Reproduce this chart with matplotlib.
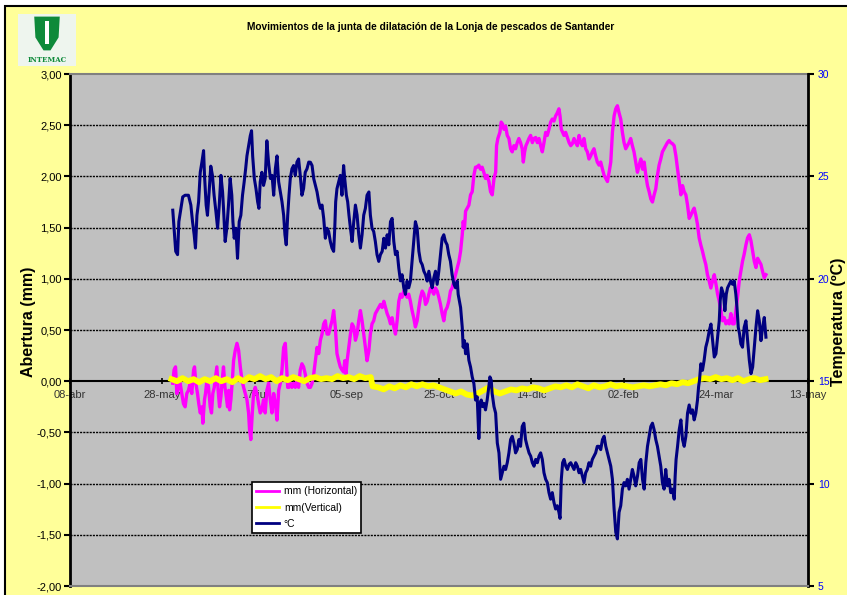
import matplotlib
matplotlib.use("Agg")
import matplotlib.pyplot as plt
import matplotlib.patches as mpatches
import numpy as np
import pandas as pd

plt.rcParams["font.family"] = ["Liberation Sans", "DejaVu Sans"]

START = pd.Timestamp("2004-04-08")

# días desde el 08-abr y lecturas
temp_days = [
    55.7, 56.4, 57.3, 58.3, 59.0, 60.1, 61.1, 62.4, 64.2, 65.5, 66.4, 67.3, 68.0, 68.8, 69.7,
    70.6, 71.5, 72.4, 72.9, 73.8, 74.5, 75.4, 76.3, 77.2, 78.1, 79.1, 80.0, 80.9, 81.8, 82.7,
    83.2, 84.1, 85.0, 85.9, 86.8, 87.7, 88.3, 89.0, 89.9, 90.8, 91.7, 92.6, 93.5, 94.4, 95.2,
    95.9, 96.8, 97.7, 98.4, 99.0, 99.9, 100.8, 101.7, 102.4, 103.1, 104.0, 104.9, 105.8, 106.7,
    107.6, 108.6, 109.5, 110.4, 111.3, 112.2, 113.1, 114.0, 114.9, 115.8, 116.5, 117.2, 118.0,
    118.7, 119.4, 120.3, 121.2, 122.1, 123.0, 123.9, 124.8, 125.7, 126.6, 127.5, 128.45, 129.4,
    130.3, 131.2, 132.1, 133.0, 133.9, 134.8, 135.7, 136.6, 137.5, 138.4, 139.3, 140.2, 141.1,
    142.0, 142.9, 143.5, 144.0, 144.7, 145.6, 146.5, 147.4, 148.3, 148.9, 149.8, 150.5, 151.2,
    152.0, 152.9, 153.8, 154.7, 155.6, 156.5, 157.4, 158.3, 159.2, 160.1, 161.0, 162.0, 162.8,
    163.7, 164.6, 165.5, 166.4, 167.35, 168.25, 169.2, 170.1, 171.0, 171.9, 172.8, 173.7, 174.6,
    175.5, 176.4, 177.3, 178.2, 179.1, 180.0, 180.9, 181.8, 182.7, 183.6, 184.5, 185.4, 186.3,
    187.2, 188.15, 189.1, 190.0, 190.9, 191.8, 192.7, 193.6, 194.5, 195.4, 196.3, 197.2, 198.1,
    199.0, 199.9, 200.8, 201.7, 202.6, 203.5, 204.4, 205.3, 206.2, 207.1, 208.1, 209.0, 209.9,
    210.4, 211.7, 212.6, 213.1, 213.8, 214.4, 215.3, 216.2, 217.1, 218.0, 218.9, 219.8, 220.7,
    221.6, 222.2, 222.9, 223.6, 224.3, 225.2, 226.1, 227.0, 227.6, 228.3, 228.8, 229.8, 230.7,
    231.6, 232.5, 233.4, 234.3, 235.2, 236.1, 237.0, 237.9, 238.8, 239.7, 240.6, 241.5, 242.4,
    243.3, 244.2, 245.1, 246.0, 246.9, 247.8, 248.8, 249.7, 250.6, 251.5, 252.4, 253.3, 254.2,
    255.1, 256.0, 256.9, 257.8, 258.7, 259.6, 260.5, 261.4, 262.3, 263.2, 264.1, 265.0, 265.6,
    266.3, 267.0, 267.8, 268.7, 269.6, 270.5, 271.4, 272.3, 273.2, 274.1, 275.0, 275.9, 276.8,
    277.7, 278.6, 279.5, 280.4, 281.3, 282.2, 283.1, 284.0, 284.9, 285.8, 286.75, 287.65, 288.6,
    289.5, 290.4, 291.3, 292.2, 293.1, 294.0, 294.9, 295.8, 296.7, 297.6, 298.5, 299.4, 300.3,
    301.2, 302.1, 303.0, 303.9, 304.8, 305.7, 306.6, 307.6, 308.5, 309.4, 310.3, 311.2, 312.1,
    313.0, 313.9, 314.8, 315.7, 316.6, 317.5, 318.4, 319.3, 320.2, 321.1, 322.0, 322.9, 323.8,
    324.7, 325.6, 326.5, 327.5, 328.0, 328.5, 329.3, 330.2, 331.1, 332.0, 332.9, 333.8, 334.7,
    335.6, 336.5, 337.4, 338.3, 339.2, 340.1, 340.7, 341.2, 341.9, 342.8, 343.7, 344.6, 345.5,
    346.5, 347.4, 348.3, 349.2, 350.1, 351.0, 351.9, 352.4, 353.1, 354.2, 354.95, 355.7, 356.4,
    357.3, 358.2, 359.1, 360.0, 360.9, 361.5, 362.2, 362.9, 363.6, 364.5, 365.4, 366.35, 367.25,
    368.2, 369.1, 370.0, 370.9, 371.8, 372.7, 373.6, 374.5, 375.4, 376.3, 377.2,
]
temp_values = [
    23.35, 22.47, 21.34, 21.18, 22.79, 23.44, 24.0, 24.08, 24.08, 23.6, 22.8, 22.15, 21.5, 23.1, 23.76,
    25.2, 25.7, 26.26, 25.05, 23.6, 23.1, 24.24, 25.5, 25.05, 24.08, 23.27, 22.47, 23.6, 25.05, 24.24,
    23.44, 21.82, 22.47, 23.6, 24.9, 24.08, 22.79, 21.98, 22.47, 21.0, 22.79, 23.1, 24.08, 24.73, 25.37,
    26.0, 26.5, 26.98, 27.23, 26.0, 24.9, 24.4, 23.76, 23.44, 24.73, 25.2, 24.56, 24.9, 26.74,
    25.7, 24.9, 25.05, 24.08, 25.37, 26.0, 24.73, 24.24, 23.76, 23.1, 22.15, 21.66, 23.1,
    24.08, 24.9, 25.37, 25.53, 25.05, 25.7, 25.85, 25.05, 24.08, 24.4, 25.2, 25.37, 25.7,
    25.69, 25.53, 24.89, 24.56, 24.24, 23.76, 23.44, 23.6, 22.95, 21.98, 22.47, 22.31, 21.82,
    21.5, 21.34, 22.47, 23.76, 24.4, 24.73, 25.05, 24.08, 25.53, 24.89, 24.08, 23.76, 23.11,
    22.47, 21.82, 22.79, 23.6, 23.11, 22.15, 21.5, 22.15, 23.11, 23.44, 24.08, 24.24, 23.11,
    22.47, 22.31, 21.82, 21.18, 20.85, 21.18, 21.34, 21.98, 21.5, 22.15, 21.66, 22.79, 22.95,
    21.82, 21.18, 21.34, 20.53, 19.9, 20.2, 19.56, 19.24, 19.89, 19.56, 19.89, 20.85, 21.82,
    22.79, 22.47, 21.34, 20.85, 20.69, 20.37, 20.2, 19.89, 20.37, 19.89, 19.56, 20.05, 20.37,
    19.73, 20.37, 21.18, 21.98, 22.15, 21.82, 21.66, 21.18, 20.85, 20.2, 19.73, 19.56, 19.89,
    19.24, 18.6, 17.63, 16.66, 16.98, 16.34, 16.82, 16.02, 15.69, 15.21, 14.89, 14.08, 14.24,
    12.2, 13.92, 14.08, 13.76, 13.92, 13.6, 14.08, 14.73, 15.21, 15.05, 14.4, 13.76, 13.44,
    11.98, 11.5, 10.21, 10.53, 10.85, 10.69, 11.02, 11.5, 12.15, 12.31, 11.98, 11.5, 11.66,
    12.15, 11.82, 12.79, 12.95, 12.15, 11.82, 11.5, 11.34, 11.02, 10.85, 11.18, 11.02, 11.34,
    11.5, 11.18, 10.53, 10.21, 10.05, 9.56, 9.24, 9.56, 9.08, 8.76, 8.92, 8.6, 8.3,
    10.21, 11.02, 11.18, 10.85, 10.69, 10.94, 11.02, 10.85, 10.69, 11.02, 10.85, 10.53, 10.69,
    10.37, 10.05, 10.53, 10.69, 11.02, 10.85, 11.18, 11.34, 11.5, 11.82, 11.82, 11.66, 12.15,
    12.31, 11.82, 11.5, 11.18, 10.85, 10.21, 8.76, 7.63, 7.3, 8.6, 8.92, 9.73, 10.05,
    9.89, 10.21, 9.73, 10.21, 10.69, 10.37, 9.89, 10.37, 11.02, 11.18, 10.21, 9.73, 11.02,
    11.82, 12.31, 12.79, 12.95, 12.63, 12.15, 11.82, 11.34, 10.85, 10.05, 9.73, 10.69, 9.89,
    10.21, 9.56, 9.73, 9.24, 10.37, 11.18, 11.82, 12.63, 13.11, 12.15, 11.82, 12.31, 13.44,
    13.84, 13.44, 13.6, 13.11, 13.44, 14.08, 14.73, 15.05, 15.85, 15.53, 16.02, 16.66, 16.98,
    17.47, 17.79, 16.98, 16.18, 16.34, 17.15, 17.95, 18.92, 19.56, 19.24, 18.44, 19.24, 19.56,
    19.73, 19.89, 19.73, 19.89, 19.24, 18.6, 17.63, 17.31, 16.82, 16.66, 17.63, 17.95, 16.98,
    16.02, 15.37, 15.69, 16.66, 17.63, 18.44, 17.95, 16.98, 17.63, 18.11, 17.15,
]

horiz_days = [
    55.7, 56.4, 57.2, 57.9, 58.8, 59.7, 60.6, 61.5, 62.4, 63.3, 64.2, 65.1, 66.0, 67.0, 67.5,
    68.2, 69.1, 69.8, 70.6, 71.5, 72.0, 72.9, 73.45, 74.2, 75.1, 76.0, 76.7, 77.4, 78.2, 78.9,
    79.6, 80.3, 81.05, 81.8, 82.5, 83.2, 84.0, 84.7, 85.4, 86.0, 86.5, 87.2, 88.0, 88.65, 89.55,
    90.5, 91.4, 92.3, 93.2, 94.1, 95.0, 95.9, 96.8, 97.3, 98.0, 98.8, 99.5, 100.4, 101.3, 102.2,
    103.1, 104.0, 104.9, 105.8, 106.7, 107.65, 108.55, 109.45, 110.4, 111.3, 112.2, 113.1, 114.0,
    114.9, 115.8, 116.7, 117.2, 118.0, 118.7, 119.4, 120.3, 121.2, 122.1, 123.0, 123.9, 124.8,
    125.7, 126.6, 127.5, 128.45, 129.4,
    130.3, 131.2, 132.1, 133.0, 133.9, 134.8, 135.7, 136.6, 137.5, 138.4, 139.3, 140.2, 141.1,
    142.0, 142.9, 143.8, 144.7, 145.6, 146.5, 147.4, 148.3, 148.9, 149.6, 150.2, 151.1, 152.0,
    152.9, 153.8, 154.7, 155.6, 156.5, 157.4, 158.3, 159.2, 160.1, 161.0, 162.0, 162.8, 163.7,
    164.6, 165.5, 166.4, 167.35, 168.25, 169.2, 170.1, 171.0, 171.9, 172.8, 173.7, 174.6, 175.5,
    176.4, 177.3, 178.2, 179.1, 180.0, 180.9, 181.8, 182.7, 183.6, 184.5, 185.4, 186.3, 187.2,
    188.15, 189.1, 190.0, 190.9, 191.8, 192.7, 193.6, 194.5, 195.4, 196.3, 197.2, 198.1, 199.0,
    199.9, 200.8, 201.7, 202.6, 203.5, 204.4, 205.3, 206.2, 207.1, 208.1, 209.0, 209.9, 210.8,
    211.7, 212.6, 213.1, 213.8, 214.4, 215.3, 216.2, 217.1, 218.0, 218.9, 219.8, 220.7, 221.6,
    222.5, 223.4, 224.3, 225.2, 226.1, 227.05, 227.95, 228.85, 229.8, 230.7, 231.2, 231.9, 233.0,
    233.7, 234.5, 235.2, 236.1, 237.0, 237.9, 238.8, 239.7, 240.6, 241.5, 242.4, 243.3, 244.2,
    245.1, 245.7, 246.4, 247.1, 247.85, 248.75, 249.66, 250.6, 251.5, 252.4, 253.3, 254.2, 255.1,
    256.0, 256.9, 257.8, 258.7, 259.6, 260.5, 261.4, 262.3, 263.2, 264.1, 265.0, 265.6, 266.3,
    267.0, 267.75, 268.65, 269.6, 270.5, 271.4, 272.3, 273.2, 274.1, 275.0, 275.9, 276.8, 277.7,
    278.6, 279.5, 280.4, 281.3, 282.2, 283.1, 284.0, 284.9, 285.8, 286.75, 287.65, 288.6, 289.5,
    290.4, 291.3, 292.2, 293.1, 294.0, 294.9, 295.8, 296.7, 297.6, 298.5, 299.4, 300.3, 301.2,
    302.1, 303.0, 303.9, 304.8, 305.7, 306.6, 307.55, 308.5, 309.4, 310.3, 311.2, 312.1, 313.0,
    313.9, 314.8, 315.7, 316.6, 317.5, 318.4, 319.3, 320.2, 321.1, 322.0, 322.9, 323.8, 324.7,
    325.6, 326.5, 327.45, 328.4, 329.3, 330.2, 331.1, 332.0, 332.9, 333.8, 334.7, 335.6, 336.5,
    337.4, 338.3, 339.2, 340.1, 341.0, 341.9, 342.8, 343.7, 344.6, 345.5, 346.4, 347.35, 348.3,
    349.2, 350.1, 351.0, 351.9, 352.8, 353.7, 354.6, 355.5, 356.4, 357.3, 358.2, 359.1, 360.0,
    360.9, 361.8, 362.75, 363.6, 364.5, 365.4, 366.35, 367.25, 368.2, 369.1, 370.0, 370.9, 371.8,
    372.7, 373.6, 374.5, 375.4, 376.3, 377.2,
]
horiz_values = [
    -0.02, 0.11, 0.14, -0.12, -0.06, -0.02, -0.12, -0.22, -0.25, -0.12, -0.09, -0.02, -0.12, 0.11, 0.14,
    -0.02, -0.12, -0.22, -0.31, -0.25, -0.41, -0.18, -0.12, 0.01, -0.06, -0.25, -0.31, -0.12, -0.06, 0.04,
    0.14, -0.09, -0.25, -0.15, 0.01, 0.14, -0.06, -0.15, -0.25, -0.09, -0.28, -0.18, 0.01, 0.2, 0.3,
    0.37, 0.3, 0.14, 0.01, -0.06, -0.12, -0.18, -0.31, -0.47, -0.57, -0.31, -0.12, -0.06, -0.12, -0.22,
    -0.31, -0.28, -0.18, -0.31, -0.09, -0.02, -0.18, -0.31, -0.12, -0.22, -0.38, -0.09, -0.02,
    0.11, 0.33, 0.37, 0.2, -0.06, -0.06, -0.02, -0.06, -0.02, -0.06, 0.01, -0.06, 0.11,
    0.17, 0.14, 0.07, -0.02, -0.06,
    -0.06, -0.02, 0.07, 0.2, 0.33, 0.27, 0.4, 0.46, 0.56, 0.59, 0.46, 0.46, 0.53,
    0.59, 0.69, 0.53, 0.27, 0.2, 0.14, 0.11, 0.09, 0.2, 0.07, 0.2, 0.33, 0.46,
    0.56, 0.53, 0.4, 0.46, 0.59, 0.69, 0.59, 0.46, 0.33, 0.2, 0.3, 0.46, 0.56,
    0.59, 0.66, 0.69, 0.72, 0.75, 0.72, 0.78, 0.72, 0.66, 0.62, 0.56, 0.62, 0.53,
    0.46, 0.59, 0.78, 0.85, 0.82, 0.88, 0.85, 0.82, 0.85, 0.78, 0.69, 0.62, 0.53,
    0.59, 0.72, 0.82, 0.88, 0.85, 0.75, 0.78, 0.85, 0.91, 0.88, 0.85, 0.91, 0.88,
    0.82, 0.75, 0.66, 0.59, 0.69, 0.72, 0.78, 0.88, 0.91, 0.98, 1.04, 1.11, 1.17,
    1.27, 1.43, 1.56, 1.49, 1.66, 1.69, 1.72, 1.82, 1.85, 2.01, 2.09, 2.09, 2.11,
    2.07, 2.09, 2.04, 1.98, 2.01, 1.95, 1.85, 1.82, 1.98, 2.04, 2.3, 2.37, 2.43,
    2.53, 2.51, 2.46, 2.49, 2.4, 2.37, 2.27, 2.24, 2.3, 2.27, 2.33, 2.37, 2.33,
    2.27, 2.14, 2.24, 2.3, 2.33, 2.37, 2.4, 2.33, 2.37, 2.38, 2.33, 2.37, 2.3,
    2.24, 2.33, 2.43, 2.4, 2.46, 2.53, 2.56, 2.54, 2.59, 2.62, 2.66, 2.59, 2.46,
    2.43, 2.4, 2.43, 2.38, 2.33, 2.3, 2.32, 2.37, 2.33, 2.3, 2.4, 2.33, 2.3,
    2.37, 2.27, 2.24, 2.17, 2.2, 2.24, 2.27, 2.2, 2.14, 2.11, 2.14, 2.07, 2.01,
    1.98, 1.95, 2.04, 2.14, 2.43, 2.59, 2.66, 2.69, 2.62, 2.56, 2.43, 2.33, 2.27,
    2.3, 2.33, 2.37, 2.3, 2.24, 2.14, 2.04, 2.11, 2.17, 2.07, 2.14, 2.01, 1.91,
    1.85, 1.78, 1.75, 1.82, 1.88, 2.01, 2.11, 2.17, 2.24, 2.27, 2.3, 2.33, 2.35,
    2.33, 2.32, 2.3, 2.2, 2.07, 1.95, 1.82, 1.91, 1.85, 1.82, 1.72, 1.59, 1.62,
    1.66, 1.69, 1.62, 1.53, 1.4, 1.33, 1.27, 1.2, 1.14, 1.04, 0.98, 0.91, 0.98,
    1.04, 0.95, 0.85, 0.78, 0.69, 0.59, 0.62, 0.56, 0.59, 0.56, 0.66, 0.56, 0.56,
    0.69, 0.82, 0.98, 1.07, 1.17, 1.24, 1.33, 1.4, 1.43, 1.37, 1.27, 1.17, 1.11,
    1.2, 1.17, 1.14, 1.07, 1.01, 1.04,
]

vert_days = [
    55, 58, 61, 64, 67, 70, 73, 76, 79, 82, 85, 88, 91, 94, 97, 100, 103, 106, 109, 112,
    115, 118, 121, 124, 127, 130, 133, 136, 139, 142, 145, 148, 151, 154, 157, 160, 163, 164,
    167, 170, 173, 176, 179, 182, 185, 188, 191, 194, 197, 200, 203, 206, 209, 212, 215, 218,
    221, 224, 227, 230, 233, 236, 239, 242, 245, 248, 251, 254, 257, 260, 263, 266, 269, 272,
    275, 278, 281, 284, 287, 290, 293, 296, 299, 302, 305, 308, 311, 314, 317, 320, 323, 326,
    329, 332, 335, 338, 341, 344, 347, 350, 353, 356, 359, 362, 365, 368, 371, 374, 377,
]
vert_values = [
    0.02, 0.0, 0.03, 0.0, 0.02, -0.01, 0.02, 0.0, 0.03, 0.0, 0.02, -0.01, 0.03, 0.0, 0.04, 0.02,
    0.05, 0.02, 0.04, 0.0, 0.03, 0.01, 0.04, 0.02, 0.0, 0.03, 0.04, 0.02, 0.03, 0.02, 0.05, 0.03,
    0.04, 0.02, 0.05, 0.03, 0.04, -0.05, -0.06, -0.08, -0.05, -0.07, -0.04, -0.06, -0.03, -0.05,
    -0.03, -0.05, -0.04, -0.06, -0.08, -0.1, -0.12, -0.1, -0.13, -0.14, -0.12, -0.09, -0.06, -0.1,
    -0.12, -0.1, -0.08, -0.09, -0.07, -0.08, -0.06, -0.07, -0.09, -0.07, -0.05, -0.06, -0.04,
    -0.06, -0.03, -0.05, -0.07, -0.04, -0.06, -0.05, -0.03, -0.05, -0.04, -0.05, -0.06, -0.05,
    -0.04, -0.05, -0.04, -0.03, -0.04, -0.02, -0.03, -0.01, -0.02, 0.0, 0.02, 0.03, 0.02, 0.04,
    0.02, 0.03, 0.01, 0.03, 0.0, 0.02, 0.03, 0.01, 0.02,
]

tick_labels = ["08-abr", "28-may", "17-jul", "05-sep", "25-oct",
               "14-dic", "02-feb", "24-mar", "13-may"]
mm_ticks = np.arange(-2.0, 3.01, 0.5)
temp_ticks = [5, 10, 15, 20, 25, 30]


def to_dates(days):
    return START + pd.to_timedelta(np.asarray(days, dtype=float), unit="D")


W, H = 847, 595
fig = plt.figure(figsize=(W / 100, H / 100), dpi=100, facecolor="white")
fig.patches.append(mpatches.Rectangle((5 / W, -0.05), 1.0, 1 - 6 / H + 0.05,
                                      transform=fig.transFigure, facecolor="#FFFF99",
                                      edgecolor="black", linewidth=1.5, zorder=-10))

# área de trazado: x 70-808 px, y 74-586 px
ax = fig.add_axes([70 / W, 1 - 586 / H, 738 / W, 512 / H])
ax.set_facecolor("#C0C0C0")
ax2 = ax.twinx()

ax.plot(to_dates(horiz_days), horiz_values, color="#FF00FF", lw=2.4, zorder=3,
        label="mm (Horizontal)")
ax.plot(to_dates(vert_days), vert_values, color="#FFFF00", lw=4.2, zorder=4,
        label="mm(Vertical)")
ax2.plot(to_dates(temp_days), temp_values, color="#000080", lw=2.2, zorder=5, label="°C")

ax.set_ylim(-2, 3)
ax2.set_ylim(5, 30)
ax.set_xlim(START, START + pd.Timedelta(days=400))

for y in mm_ticks[1:-1]:
    if abs(y) > 1e-9:
        ax.axhline(y, color="black", lw=1.0, ls=(0, (1.5, 0.8)), zorder=1)

# eje de fechas cruzando en 0
ax.spines["bottom"].set_position(("data", 0))
ax.spines["bottom"].set_color("black")
ax.spines["bottom"].set_linewidth(1.5)
ax.spines["bottom"].set_zorder(2)
ax.spines["top"].set_color("#808080")
ax.spines["top"].set_linewidth(1.5)
ax.spines["left"].set_linewidth(2)
ax.spines["right"].set_visible(False)
ax2.spines["bottom"].set_color("#808080")
ax2.spines["bottom"].set_linewidth(1.5)
ax2.spines["top"].set_visible(False)
ax2.spines["left"].set_visible(False)
ax2.spines["right"].set_linewidth(2)

xticks = [START + pd.Timedelta(days=50 * i) for i in range(len(tick_labels))]
ax.set_xticks(xticks)
ax.set_xticklabels(tick_labels, fontsize=8, color="#333333")
ax.tick_params(axis="x", direction="inout", length=4, width=1.2, pad=4)

ax.set_yticks(mm_ticks)
ax.set_yticklabels([f"{v:.2f}".replace(".", ",") for v in mm_ticks], fontsize=8)
ax.tick_params(axis="y", direction="out", length=4, width=1.5, pad=2)

ax2.set_yticks(temp_ticks)
ax2.set_yticklabels([str(t) for t in temp_ticks], fontsize=7.5, color="#0000FF")
ax2.tick_params(axis="y", direction="out", length=4, width=1.5, pad=3)

fig.text(28 / W, 1 - 322 / H, "Abertura (mm)", rotation=90, ha="center", va="center",
         fontsize=11.5, fontweight="bold")
fig.text(838 / W, 1 - 322 / H, "Temperatura (ºC)", rotation=90, ha="center", va="center",
         fontsize=11.5, fontweight="bold")

fig.text(431 / W, 1 - 27 / H,
         "Movimientos de la junta de dilatación de la Lonja de pescados de Santander",
         ha="center", va="center", fontsize=7.3, fontweight="bold")

h1, l1 = ax.get_legend_handles_labels()
h2, l2 = ax2.get_legend_handles_labels()
leg = ax2.legend(h1 + h2, l1 + l2, loc="upper left", bbox_to_anchor=(0.2466, 0.203),
                 fontsize=7.4, frameon=True, fancybox=False, framealpha=1,
                 edgecolor="black", handlelength=2.2, handletextpad=0.5,
                 borderpad=0.4, labelspacing=0.62, borderaxespad=0)
leg.get_frame().set_linewidth(1.2)
for line in leg.get_lines():
    line.set_linewidth(2)

# logotipo
logo = fig.add_axes([18 / W, 1 - 66 / H, 58 / W, 52 / H])
logo.set_xlim(0, 1)
logo.set_ylim(0, 1)
logo.axis("off")
logo.add_patch(mpatches.Rectangle((0, 0), 1, 1, facecolor="#EEF5EE", edgecolor="none"))
logo.add_patch(mpatches.Polygon([(0.28, 0.95), (0.72, 0.95), (0.70, 0.55), (0.56, 0.30),
                                 (0.44, 0.30), (0.30, 0.55)], closed=True,
                                facecolor="#0E8A3A", edgecolor="none"))
logo.add_patch(mpatches.Rectangle((0.46, 0.42), 0.08, 0.45, facecolor="white",
                                  edgecolor="none"))
logo.text(0.5, 0.12, "INTEMAC", ha="center", va="center", fontsize=5,
          color="#0E8A3A", family="DejaVu Serif", fontweight="bold")

fig.savefig("out.png", dpi=100, facecolor=fig.get_facecolor())
